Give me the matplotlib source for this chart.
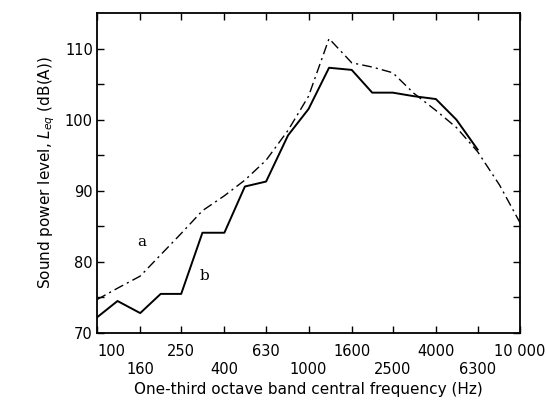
import matplotlib
matplotlib.use("Agg")
import matplotlib.pyplot as plt
import matplotlib.transforms as mtransforms
from matplotlib.ticker import FixedLocator, NullFormatter, NullLocator

# one-third octave band centres (Hz)
freqs = [100, 125, 160, 200, 250, 315, 400, 500, 630, 800, 1000,
         1250, 1600, 2000, 2500, 3150, 4000, 5000, 6300, 8000, 10000]

# curve a (dash-dot), all bands
level_a = [74.7, 76.3, 78.0, 81.0, 84.0, 87.2, 89.3, 91.5, 94.3, 98.5, 103.3,
           111.4, 108.0, 107.4, 106.6, 103.7, 101.3, 98.9, 95.5, 90.8, 85.5]

# curve b (solid), up to 6300 Hz
level_b = [72.2, 74.5, 72.8, 75.5, 75.5, 84.1, 84.1, 90.6, 91.3, 97.8, 101.5,
           107.3, 107.0, 103.8, 103.8, 103.3, 102.9, 100.0, 95.8]

tick_freqs = [100, 160, 250, 400, 630, 1000, 1600, 2500, 4000, 6300, 10000]
tick_labels = ["100", "160", "250", "400", "630", "1000",
               "1600", "2500", "4000", "6300", "10 000"]
y_ticks = [70, 80, 90, 100, 110]

fig = plt.figure(figsize=(5.46, 4.09), dpi=100)
ax = fig.add_axes([0.1777, 0.1858, 0.7748, 0.7824])

ax.plot(freqs, level_a, color="black", lw=1.0, dashes=(7, 3, 1.5, 3))
ax.plot(freqs[:len(level_b)], level_b, color="black", lw=1.4)

ax.set_xscale("log")
ax.set_xlim(100, 10000)
ax.set_ylim(70, 115)

# staggered frequency labels: every second one goes on a lower row
ax.xaxis.set_major_locator(FixedLocator(tick_freqs))
ax.xaxis.set_minor_locator(NullLocator())
ax.xaxis.set_minor_formatter(NullFormatter())
ax.set_xticklabels([lab if i % 2 == 0 else "\n" + lab
                    for i, lab in enumerate(tick_labels)])
labels = ax.xaxis.get_ticklabels()
labels[0].set_horizontalalignment("left")
labels[-1].set_transform(labels[-1].get_transform() +
                         mtransforms.ScaledTranslation(-0.05, 0, fig.dpi_scale_trans))

ax.set_yticks(y_ticks)
ax.set_yticks(range(75, 115, 10), minor=True)

ax.tick_params(which="both", direction="in", top=True, right=True,
               labelsize=10.5, width=1.0, length=5)
ax.tick_params(axis="x", pad=8)
ax.tick_params(axis="y", pad=3)
for s in ax.spines.values():
    s.set_linewidth(1.3)

ax.text(155, 82.3, "a", family="DejaVu Serif", fontsize=11)
ax.text(305, 77.5, "b", family="DejaVu Serif", fontsize=11)

ax.set_xlabel("One-third octave band central frequency (Hz)", fontsize=11, labelpad=4)
ax.set_ylabel("Sound power level, $L_{eq}$ (dB(A))", fontsize=11, labelpad=6)

fig.savefig("out.png", dpi=100)
